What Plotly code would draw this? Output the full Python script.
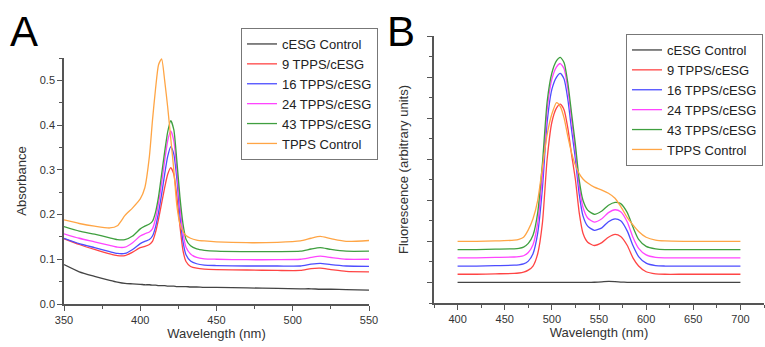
import plotly.graph_objects as go

# ---------------- Panel A: absorbance ----------------
wl_a = [350, 360, 370, 380, 385, 390, 395, 400, 403, 406, 408, 410, 412, 414, 416, 418,
        420, 422, 424, 426, 428, 430, 433, 437, 442, 450, 470, 490, 505, 512, 518, 525, 535, 550]

abs_cesg = [0.088, 0.072, 0.062, 0.053, 0.049, 0.046, 0.045, 0.044, 0.043, 0.043, 0.042, 0.042,
            0.041, 0.041, 0.041, 0.040, 0.040, 0.040, 0.039, 0.039, 0.039, 0.039, 0.038, 0.038,
            0.037, 0.037, 0.036, 0.035, 0.034, 0.034, 0.033, 0.033, 0.032, 0.031]
abs_9 = [0.146, 0.133, 0.122, 0.112, 0.108, 0.108, 0.116, 0.126, 0.129, 0.133, 0.140, 0.160,
         0.190, 0.225, 0.260, 0.290, 0.305, 0.290, 0.240, 0.175, 0.120, 0.095, 0.084, 0.080,
         0.078, 0.077, 0.076, 0.075, 0.075, 0.079, 0.080, 0.077, 0.073, 0.072]
abs_16 = [0.147, 0.135, 0.126, 0.117, 0.113, 0.113, 0.122, 0.135, 0.140, 0.144, 0.152, 0.172,
          0.205, 0.245, 0.290, 0.330, 0.352, 0.335, 0.280, 0.200, 0.140, 0.110, 0.096, 0.090,
          0.087, 0.086, 0.085, 0.085, 0.085, 0.089, 0.091, 0.088, 0.085, 0.084]
abs_24 = [0.157, 0.147, 0.139, 0.131, 0.127, 0.127, 0.137, 0.152, 0.157, 0.161, 0.168, 0.190,
          0.225, 0.270, 0.320, 0.365, 0.387, 0.365, 0.300, 0.220, 0.160, 0.127, 0.112, 0.104,
          0.101, 0.100, 0.099, 0.099, 0.100, 0.104, 0.107, 0.104, 0.100, 0.100]
abs_43 = [0.173, 0.163, 0.156, 0.148, 0.144, 0.144, 0.152, 0.168, 0.174, 0.179, 0.185, 0.205,
          0.240, 0.290, 0.340, 0.385, 0.410, 0.390, 0.320, 0.240, 0.180, 0.145, 0.130, 0.123,
          0.120, 0.118, 0.117, 0.117, 0.118, 0.123, 0.126, 0.122, 0.118, 0.118]
abs_tpps = [0.188, 0.180, 0.174, 0.170, 0.175, 0.198, 0.215, 0.235, 0.260, 0.330, 0.410, 0.480,
            0.535, 0.548, 0.500, 0.440, 0.370, 0.300, 0.220, 0.180, 0.162, 0.153, 0.147, 0.143,
            0.141, 0.139, 0.137, 0.138, 0.141, 0.147, 0.151, 0.146, 0.140, 0.142]

# ---------------- Panel B: fluorescence ----------------
wl_b = [400, 420, 440, 460, 465, 470, 475, 480, 485, 490, 495, 500, 505, 509, 513, 517, 521,
        525, 529, 533, 538, 545, 553, 560, 567, 573, 580, 586, 592, 600, 610, 620, 640, 670, 700]

fl_cesg = [0, 0, 0, 0, 0, 0, 0, 0, 0, 0, 0, 0, 0, 0, 0, 0, 0, 0, 0, 0, 0, 0.005, 0.015, 0.025,
           0.02, 0.01, 0.003, 0, 0, 0, 0, 0, 0, 0, 0]
fl_9 = [0.2, 0.2, 0.21, 0.22, 0.23, 0.25, 0.3, 0.4, 0.7, 1.45, 3.0, 3.9, 4.25, 4.34, 4.2, 3.75,
        3.1, 2.5, 1.7, 1.2, 0.98, 0.9, 0.97, 1.1, 1.17, 1.12, 0.9, 0.6, 0.4, 0.26, 0.21, 0.2,
        0.2, 0.2, 0.2]
fl_16 = [0.4, 0.4, 0.41, 0.42, 0.43, 0.45, 0.52, 0.7, 1.2, 2.3, 3.9, 4.7, 5.0, 5.09, 4.95, 4.45,
         3.7, 3.0, 2.15, 1.62, 1.37, 1.27, 1.33, 1.48, 1.55, 1.5, 1.25, 0.9, 0.63, 0.47, 0.41,
         0.4, 0.4, 0.4, 0.4]
fl_24 = [0.6, 0.6, 0.61, 0.62, 0.63, 0.65, 0.73, 0.92, 1.45, 2.6, 4.2, 4.95, 5.25, 5.33, 5.2,
         4.7, 3.95, 3.2, 2.35, 1.83, 1.57, 1.47, 1.55, 1.7, 1.77, 1.72, 1.47, 1.1, 0.83, 0.67,
         0.61, 0.6, 0.6, 0.6, 0.6]
fl_43 = [0.8, 0.8, 0.81, 0.82, 0.83, 0.86, 0.95, 1.15, 1.7, 2.9, 4.4, 5.1, 5.4, 5.48, 5.35,
         4.85, 4.1, 3.35, 2.5, 2.0, 1.76, 1.66, 1.74, 1.88, 1.95, 1.92, 1.7, 1.35, 1.05, 0.88,
         0.82, 0.8, 0.8, 0.8, 0.8]
fl_tpps = [1.0, 1.0, 1.01, 1.03, 1.05, 1.1, 1.28, 1.55, 2.0, 2.8, 3.6, 4.1, 4.38, 4.28, 4.0,
           3.55, 3.15, 2.85, 2.65, 2.52, 2.42, 2.32, 2.25, 2.17, 2.05, 1.85, 1.58, 1.4, 1.24,
           1.1, 1.03, 1.01, 1.0, 1.0, 1.0]

names = ["cESG Control", "9 TPPS/cESG", "16 TPPS/cESG", "24 TPPS/cESG", "43 TPPS/cESG", "TPPS Control"]
colors = ["#444444", "#ff4545", "#4d4dff", "#ff45ff", "#3f9f3f", "#ffa545"]

series_a = [abs_cesg, abs_9, abs_16, abs_24, abs_43, abs_tpps]
series_b = [fl_cesg, fl_9, fl_16, fl_24, fl_43, fl_tpps]

fig = go.Figure()
for n, c, ya in zip(names, colors, series_a):
    fig.add_trace(go.Scatter(x=wl_a, y=ya, name=n, mode="lines", line=dict(color=c, width=1.3, shape="spline", smoothing=0.6),
                             xaxis="x", yaxis="y", legend="legend"))
for n, c, yb in zip(names, colors, series_b):
    fig.add_trace(go.Scatter(x=wl_b, y=yb, name=n, mode="lines", line=dict(color=c, width=1.3, shape="spline", smoothing=0.6),
                             xaxis="x2", yaxis="y2", legend="legend2"))

W, H = 765, 347
FONT = "Liberation Sans, Arial, sans-serif"
axcol = "#555555"
tickfont = dict(family=FONT, size=11, color="#333333")
titlefont = dict(family=FONT, size=13, color="#333333")

common = dict(showline=True, linecolor=axcol, linewidth=1.5, ticks="outside", ticklen=5, tickwidth=1.2,
              tickcolor=axcol, showgrid=False, zeroline=False, tickfont=tickfont, automargin=False)

fig.update_layout(
    width=W, height=H,
    margin=dict(l=0, r=0, t=0, b=0, autoexpand=False),
    paper_bgcolor="white", plot_bgcolor="white",
    font=dict(family=FONT, color="#333333"),
    xaxis=dict(domain=[64 / W, 369 / W], range=[350, 550], tick0=350, dtick=50, anchor="y",
               title=dict(text="Wavelength (nm)", font=titlefont, standoff=4),
               minor=dict(dtick=25, ticks="outside", ticklen=3, tickcolor=axcol), **common),
    yaxis=dict(domain=[(H - 304) / H, (H - 58) / H], range=[0, 0.55], tick0=0, dtick=0.1, tickformat=".1f", anchor="x",
               title=dict(text="Absorbance", font=titlefont, standoff=10),
               minor=dict(dtick=0.05, ticks="outside", ticklen=3, tickcolor=axcol), **common),
    xaxis2=dict(domain=[434 / W, 764 / W], range=[375, 725], tick0=400, dtick=50, anchor="y2",
                title=dict(text="Wavelength (nm)", font=titlefont, standoff=4),
                minor=dict(dtick=25, ticks="outside", ticklen=3, tickcolor=axcol), **common),
    yaxis2=dict(domain=[(H - 303) / H, (H - 36) / H], range=[-0.5, 6], tick0=0, dtick=1, anchor="x2",
                showticklabels=False,
                title=dict(text="Fluorescence (arbitrary units)", font=titlefont, standoff=16),
                minor=dict(dtick=0.5, ticks="outside", ticklen=3, tickcolor=axcol), **common),
    legend=dict(x=241 / W, y=1 - 28 / H, xanchor="left", yanchor="top", bgcolor="white",
                bordercolor="#777777", borderwidth=1, font=dict(family=FONT, size=13, color="#222222"),
                tracegroupgap=0, itemwidth=30),
    legend2=dict(x=626 / W, y=1 - 34 / H, xanchor="left", yanchor="top", bgcolor="white",
                 bordercolor="#777777", borderwidth=1, font=dict(family=FONT, size=13, color="#222222"),
                 tracegroupgap=0, itemwidth=30),
    annotations=[
        dict(text="A", x=8 / W, y=1 - 32 / H, xref="paper", yref="paper", xanchor="left", yanchor="middle",
             showarrow=False, font=dict(family=FONT, size=42, color="black")),
        dict(text="B", x=385 / W, y=1 - 32 / H, xref="paper", yref="paper", xanchor="left", yanchor="middle",
             showarrow=False, font=dict(family=FONT, size=42, color="black")),
    ],
)

fig.write_html("out.html", config={"displayModeBar": False},
               post_script="document.body.style.margin='0';")
